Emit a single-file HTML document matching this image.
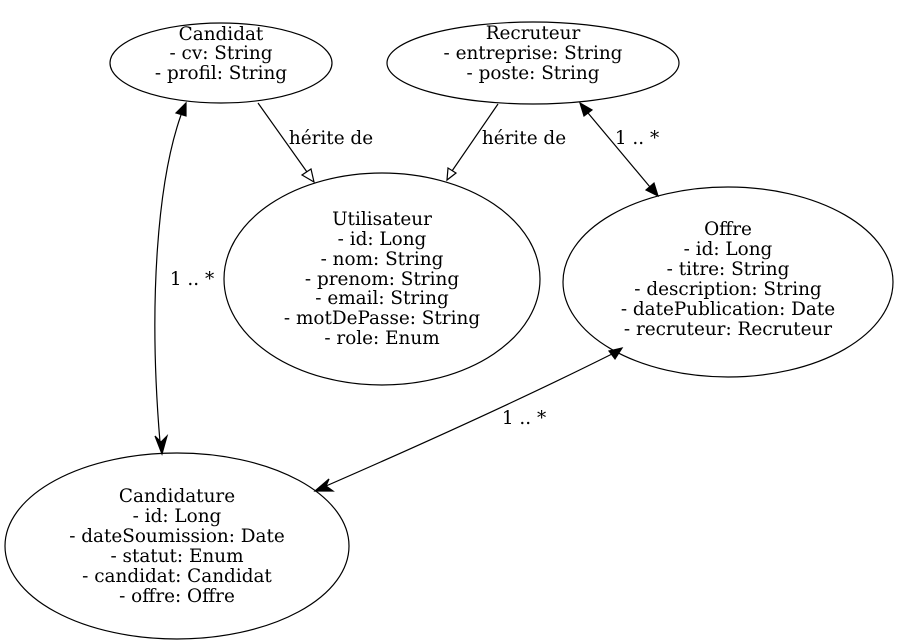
<!DOCTYPE html>
<html><head><meta charset="utf-8"><style>
html,body{margin:0;padding:0;background:#fff;}
svg{display:block;}
text{font-family:"DejaVu Serif","Liberation Serif",serif;font-size:18.4px;fill:#000;text-anchor:middle;}
</style></head><body>
<svg width="908" height="644" viewBox="0 0 908 644" xmlns="http://www.w3.org/2000/svg">
<g fill="none" stroke="#000" stroke-width="1.2">
<ellipse cx="221" cy="63" rx="111" ry="40"/>
<ellipse cx="533" cy="63" rx="146" ry="41"/>
<ellipse cx="382" cy="279" rx="158" ry="106"/>
<ellipse cx="728" cy="282" rx="165" ry="95"/>
<ellipse cx="177" cy="546" rx="172" ry="93"/>
<path d="M258,103 L307,172"/>
<path d="M498,104 L452,171"/>
<path d="M588,113 L650,187"/>
<path d="M181,115 C158,180 148,300 160,442"/>
<path d="M612,354 C520,400 420,445 326,486"/>
</g>
<g stroke="#000" stroke-width="1.2">
<polygon points="314,182 302,175 311,169" fill="#fff"/>
<polygon points="447,180 448,168 456,173" fill="#fff"/>
<polygon points="580,103 592,110 584,116" fill="#000"/>
<polygon points="658,196 646,190 654,183" fill="#000"/>
<polygon points="186,103 186,116 176,113" fill="#000"/>
<polygon points="622,348 615,359 609,351" fill="#000"/>
<polygon points="162,454 155,436 161,442 167,436" fill="#000"/>
<polygon points="315,491 329,479 326,486 333,491" fill="#000"/>
</g>
<text x="331" y="144">hérite de</text>
<text x="524" y="144">hérite de</text>
<text x="637" y="144">1 .. *</text>
<text x="192" y="285">1 .. *</text>
<text x="524" y="424">1 .. *</text>

<text x="221" y="40">Candidat</text>
<text x="221" y="59">- cv: String</text>
<text x="221" y="79">- profil: String</text>

<text x="533" y="39">Recruteur</text>
<text x="533" y="59">- entreprise: String</text>
<text x="533" y="79">- poste: String</text>

<text x="382" y="225">Utilisateur</text>
<text x="382" y="245">- id: Long</text>
<text x="382" y="265">- nom: String</text>
<text x="382" y="285">- prenom: String</text>
<text x="382" y="304">- email: String</text>
<text x="382" y="324">- motDePasse: String</text>
<text x="382" y="344">- role: Enum</text>

<text x="728" y="235">Offre</text>
<text x="728" y="255">- id: Long</text>
<text x="728" y="275">- titre: String</text>
<text x="728" y="295">- description: String</text>
<text x="728" y="315">- datePublication: Date</text>
<text x="728" y="335">- recruteur: Recruteur</text>

<text x="177" y="502">Candidature</text>
<text x="177" y="522">- id: Long</text>
<text x="177" y="542">- dateSoumission: Date</text>
<text x="177" y="562">- statut: Enum</text>
<text x="177" y="582">- candidat: Candidat</text>
<text x="177" y="602">- offre: Offre</text>
</svg>
</body></html>
